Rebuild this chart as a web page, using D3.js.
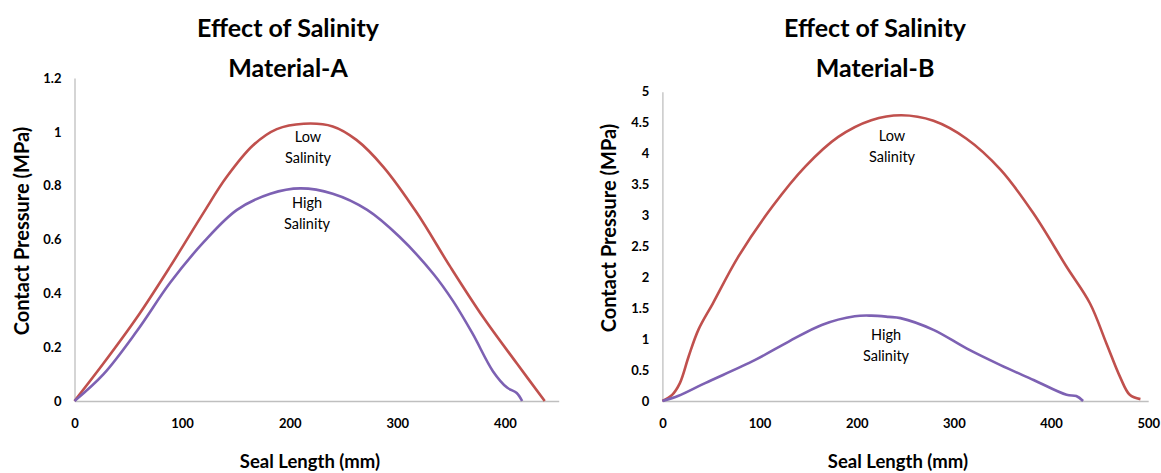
<!DOCTYPE html>
<html>
<head>
<meta charset="utf-8">
<script src="https://cdn.jsdelivr.net/npm/d3@7"></script>
<style>
  html, body { margin: 0; padding: 0; background: #ffffff; }
  svg { display: block; }
  text { font-family: Lato, "Open Sans", sans-serif; fill: #000; }
</style>
</head>
<body>
<svg id="chart" width="1161" height="473"></svg>
<script>
// ---------- DATA ----------
const chartTitles = ["Effect of Salinity", "Material-A", "Material-B"];
const xAxisTitle = "Seal Length (mm)";
const yAxisTitle = "Contact Pressure (MPa)";
const seriesNames = ["Low Salinity", "High Salinity"];

// Material-A
const aTicksX = [0, 100, 200, 300, 400];
const aTicksY = [0, 0.2, 0.4, 0.6, 0.8, 1, 1.2];
const aLowX  = [0, 27, 58, 89, 120, 141, 166, 188, 213, 240, 262, 287, 318, 349, 380, 411, 437];
const aLowY  = [0, 0.14, 0.31, 0.50, 0.70, 0.83, 0.95, 1.01, 1.03, 1.02, 0.97, 0.87, 0.70, 0.50, 0.31, 0.14, 0];
const aHighX = [0, 27, 58, 89, 120, 151, 182, 210, 240, 272, 302, 334, 352, 370, 389, 402, 411, 416];
const aHighY = [0, 0.10, 0.26, 0.44, 0.59, 0.71, 0.77, 0.79, 0.77, 0.71, 0.61, 0.47, 0.37, 0.25, 0.11, 0.05, 0.03, 0];

// Material-B
const bTicksX = [0, 100, 200, 300, 400, 500];
const bTicksY = [0, 0.5, 1, 1.5, 2, 2.5, 3, 3.5, 4, 4.5, 5];
const bLowX  = [0, 10, 18, 27, 37, 52, 78, 113, 147, 181, 215, 246, 279, 313, 348, 382, 416, 440, 457, 471, 481, 492];
const bLowY  = [0, 0.10, 0.29, 0.72, 1.15, 1.58, 2.33, 3.14, 3.79, 4.27, 4.54, 4.62, 4.53, 4.24, 3.74, 3.03, 2.17, 1.58, 0.93, 0.39, 0.10, 0.03];
const bHighX = [0, 16, 44, 95, 130, 164, 198, 215, 233, 245, 279, 313, 348, 382, 416, 426, 433];
const bHighY = [0, 0.08, 0.29, 0.66, 0.96, 1.23, 1.37, 1.38, 1.36, 1.34, 1.15, 0.85, 0.58, 0.34, 0.10, 0.08, 0];

// ---------- DRAWING ----------
const svg = d3.select("#chart");
svg.append("rect").attr("width", 1161).attr("height", 473).attr("fill", "#fff");

const colLow = "#C0504D", colHigh = "#7D61B3", axisCol = "#BFBFBF";

function zip(xs, ys) { return xs.map((x, i) => ({x: x, y: ys[i]})); }

function panel(cfg) {
  const g = svg.append("g");
  const x = d3.scaleLinear().domain(cfg.xDomain).range([cfg.left, cfg.right]);
  const y = d3.scaleLinear().domain(cfg.yDomain).range([cfg.bottom, cfg.top]);

  const xa = g.append("g").attr("transform", `translate(0,${cfg.bottom})`)
    .call(d3.axisBottom(x).tickValues(cfg.ticksX).tickSize(0).tickPadding(18).tickFormat(d3.format("d")));
  const ya = g.append("g").attr("transform", `translate(${cfg.left},0)`)
    .call(d3.axisLeft(y).tickValues(cfg.ticksY).tickSize(0).tickPadding(13).tickFormat(d => String(d)));
  [xa, ya].forEach(a => {
    a.select(".domain").attr("stroke", axisCol).attr("stroke-width", 1.3);
    a.selectAll("text").style("font-family", "Lato, sans-serif").style("font-weight", "bold")
      .style("font-size", "13px").attr("fill", "#000");
  });

  const line = d3.line().x(d => x(d.x)).y(d => y(d.y)).curve(d3.curveCatmullRom.alpha(0.5));
  g.append("path").datum(zip(cfg.lowX, cfg.lowY)).attr("d", line)
    .attr("fill", "none").attr("stroke", colLow).attr("stroke-width", 2.6);
  g.append("path").datum(zip(cfg.highX, cfg.highY)).attr("d", line)
    .attr("fill", "none").attr("stroke", colHigh).attr("stroke-width", 2.6);

  g.append("text").attr("x", cfg.titleX).attr("y", 37).attr("text-anchor", "middle")
    .style("font-weight", "bold").style("font-size", "25px").text(chartTitles[0]);
  g.append("text").attr("x", cfg.titleX).attr("y", 77).attr("text-anchor", "middle")
    .style("font-weight", "bold").style("font-size", "25px").text(cfg.sub);

  g.append("text").attr("x", cfg.xTitleX).attr("y", 468).attr("text-anchor", "middle")
    .style("font-weight", "bold").style("font-size", "18.5px").text(xAxisTitle);
  g.append("text").attr("transform", `translate(${cfg.yTitleX},${cfg.yTitleY}) rotate(-90)`)
    .attr("text-anchor", "middle").attr("dy", "0.35em")
    .style("font-weight", "bold").style("font-size", "20px").text(yAxisTitle);

  const lowWords = seriesNames[0].split(" "), highWords = seriesNames[1].split(" ");
  cfg.labels.forEach((lab, i) => {
    const words = i === 0 ? lowWords : highWords;
    const t = g.append("text").attr("text-anchor", "middle").style("font-size", "14.5px");
    words.forEach((w, j) => {
      t.append("tspan").attr("x", lab[0]).attr("y", lab[1] + j * 21).text(w);
    });
  });
}

panel({
  xDomain: [0, 450], yDomain: [0, 1.2],
  left: 74.5, right: 558.7, top: 78, bottom: 401,
  ticksX: aTicksX, ticksY: aTicksY,
  lowX: aLowX, lowY: aLowY, highX: aHighX, highY: aHighY,
  titleX: 288, sub: chartTitles[1], xTitleX: 310, yTitleX: 22, yTitleY: 231,
  labels: [[308, 142], [307, 208]]
});

panel({
  xDomain: [0, 500], yDomain: [0, 5],
  left: 662.4, right: 1148.2, top: 91.7, bottom: 401,
  ticksX: bTicksX, ticksY: bTicksY,
  lowX: bLowX, lowY: bLowY, highX: bHighX, highY: bHighY,
  titleX: 875, sub: chartTitles[2], xTitleX: 898, yTitleX: 609, yTitleY: 228,
  labels: [[892, 141], [886, 340]]
});
</script>
</body>
</html>
